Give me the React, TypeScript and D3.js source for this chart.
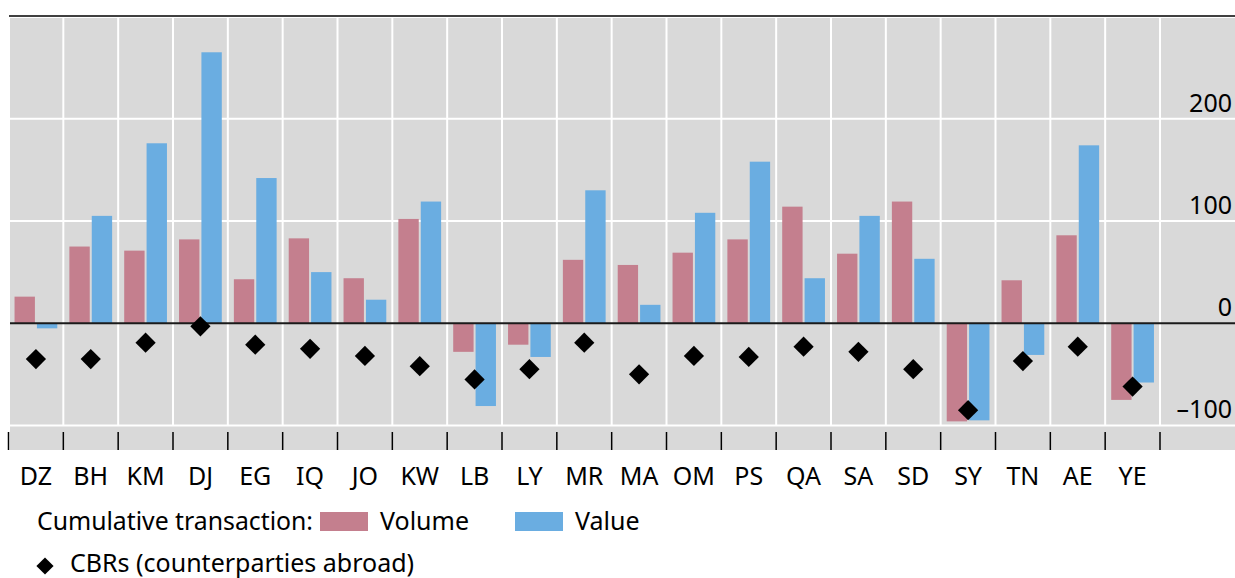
import React from 'react';
import * as d3 from 'd3';

const categories = ['DZ', 'BH', 'KM', 'DJ', 'EG', 'IQ', 'JO', 'KW', 'LB', 'LY', 'MR', 'MA', 'OM', 'PS', 'QA', 'SA', 'SD', 'SY', 'TN', 'AE', 'YE'];
const volume = [26, 75, 71, 82, 43, 83, 44, 102, -28, -21, 62, 57, 69, 82, 114, 68, 119, -96, 42, 86, -75];
const value = [-5, 105, 176, 265, 142, 50, 23, 119, -81, -33, 130, 18, 108, 158, 44, 105, 63, -95, -31, 174, -58];
const cbrs = [-35, -35, -19, -3, -21, -25, -32, -42, -55, -45, -19, -50, -32, -33, -23, -28, -45, -85, -37, -23, -62];
const yTicks = [-100, 0, 100, 200];
const seriesNames = ['Volume', 'Value'];

const W = 1235;
const H = 578;
const FONT = '"Noto Sans", sans-serif';
const VOL_COLOR = '#c47f8e';
const VAL_COLOR = '#6aade1';

const fmt = (v: number) => (v < 0 ? '\u2013' + Math.abs(v) : String(v));

export default function App() {
  const x = d3.scaleBand<string>().domain(categories).range([8.5, 1160]);
  const x1 = d3
    .scaleBand<string>()
    .domain(seriesNames)
    .range([0, x.bandwidth()])
    .paddingInner(0.09)
    .paddingOuter(0.27);
  const y = d3.scaleLinear().domain([-124, 300]).range([450, 16.5]);
  const y0 = y(0);

  const diamond = d3.symbol().type(d3.symbolSquare).size(205)();

  return (
    <svg width={W} height={H} style={{ position: 'absolute', left: 0, top: 0 }} fontFamily={FONT}>
      <rect x={10} y={18} width={W - 10} height={450 - 18} fill="#d9d9d9" />
      <line x1={9} x2={W} y1={16} y2={16} stroke="#000" strokeWidth={1.5} />

      {/* grid */}
      {yTicks.filter((t) => t !== 0).map((t) => (
        <line key={t} x1={10} x2={W} y1={y(t)} y2={y(t)} stroke="#fff" strokeWidth={2} />
      ))}
      {categories.slice(1).map((c) => (
        <line key={c} x1={x(c)!} x2={x(c)!} y1={18} y2={y(-100)} stroke="#fff" strokeWidth={2} />
      ))}
      <line x1={1160} x2={1160} y1={18} y2={y(-100)} stroke="#fff" strokeWidth={2} />

      {/* bars */}
      {categories.map((c, i) => (
        <g key={c} transform={`translate(${x(c)},0)`}>
          <rect
            x={x1('Volume')}
            width={x1.bandwidth()}
            y={Math.min(y(volume[i]), y0)}
            height={Math.abs(y(volume[i]) - y0)}
            fill={VOL_COLOR}
          />
          <rect
            x={x1('Value')}
            width={x1.bandwidth()}
            y={Math.min(y(value[i]), y0)}
            height={Math.abs(y(value[i]) - y0)}
            fill={VAL_COLOR}
          />
        </g>
      ))}

      <line x1={10} x2={W} y1={y0} y2={y0} stroke="#1a1a1a" strokeWidth={2} />

      {categories.map((c, i) => (
        <path
          key={c}
          d={diamond!}
          transform={`translate(${x(c)! + x.bandwidth() / 2},${y(cbrs[i])}) rotate(45)`}
          fill="#000"
        />
      ))}

      {/* x axis ticks */}
      {categories.map((c) => (
        <line key={c} x1={x(c)!} x2={x(c)!} y1={432} y2={450} stroke="#000" strokeWidth={1.5} />
      ))}
      <line x1={1160} x2={1160} y1={432} y2={450} stroke="#000" strokeWidth={1.5} />
      {categories.map((c) => (
        <text
          key={c}
          x={x(c)! + x.bandwidth() / 2}
          y={485}
          textAnchor="middle"
          fontSize={25}
          fill="#000"
        >
          {c}
        </text>
      ))}

      {/* y labels */}
      {yTicks.map((t) => (
        <text key={t} x={1232} y={y(t) - 7} textAnchor="end" fontSize={25} fill="#000">
          {fmt(t)}
        </text>
      ))}

      {/* legend */}
      <text x={37} y={530} fontSize={24.5} fill="#000" textLength={276} lengthAdjust="spacingAndGlyphs">Cumulative transaction:</text>
      <rect x={320} y={512} width={48} height={19} fill={VOL_COLOR} />
      <text x={380} y={530} fontSize={25} fill="#000">Volume</text>
      <rect x={515} y={512} width={48} height={19} fill={VAL_COLOR} />
      <text x={575} y={530} fontSize={25} fill="#000">Value</text>
      <path d={diamond!} transform="translate(45,566) rotate(45) scale(0.85)" fill="#000" />
      <text x={70} y={572} fontSize={25} fill="#000">CBRs (counterparties abroad)</text>
    </svg>
  );
}
